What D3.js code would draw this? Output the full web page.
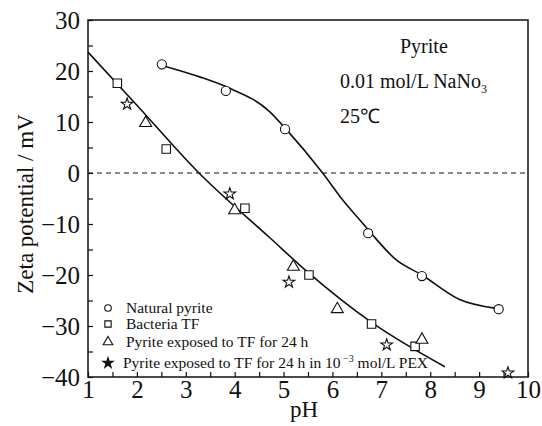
<!DOCTYPE html>
<html><head><meta charset="utf-8">
<script src="https://cdn.jsdelivr.net/npm/d3@7"></script>
<style>
html,body{margin:0;padding:0;background:#fff;}
svg text{font-family:"Liberation Serif","Times New Roman",serif;fill:#111;}
</style></head>
<body>
<svg id="chart" width="542" height="426"></svg>
<script>
// ---- data ----
const xTicks = [1,2,3,4,5,6,7,8,9,10];
const yTicks = [-40,-30,-20,-10,0,10,20,30];
const naturalPH   = [2.51, 3.82, 5.03, 6.73, 7.83, 9.40];
const naturalZeta = [21.3, 16.1, 8.6, -11.8, -20.2, -26.7];
const bacteriaPH   = [1.60, 2.60, 4.21, 5.52, 6.80, 7.69];
const bacteriaZeta = [17.6, 4.7, -6.9, -20.0, -29.6, -34.0];
const exposedPH   = [2.18, 4.00, 5.20, 6.10, 7.83];
const exposedZeta = [9.8, -7.3, -18.4, -26.7, -32.7];
const pexPH   = [1.80, 3.90, 5.11, 7.11, 9.59];
const pexZeta = [13.5, -4.1, -21.4, -33.7, -39.2];
// fitted curves
const fitLinPH   = [1.0, 2.0, 3.27, 4.72, 5.5, 6.8, 8.3];
const fitLinZeta = [23.7, 13.3, 0, -12.7, -19.5, -29.3, -38.0];
const fitNatPH   = [2.55, 3.3, 3.85, 4.72, 5.05, 5.8, 6.21, 6.56, 6.8, 7.3, 7.83, 8.6, 9.32];
const fitNatZeta = [21.0, 18.8, 16.8, 12.0, 8.6, 0, -5.3, -9.2, -11.9, -17.0, -20.0, -24.8, -26.5];
const legendLabels = ["Natural pyrite","Bacteria TF","Pyrite exposed to TF for 24 h","Pyrite exposed to TF for 24 h in 10"];

const svg = d3.select("#chart");
svg.append("rect").attr("width",542).attr("height",426).attr("fill","#fff");
const L=88,R=528,T=20,B=377;
const x = d3.scaleLinear().domain([1,10]).range([L,R]);
const y = d3.scaleLinear().domain([-40,30]).range([B,T]);

// minor inward ticks
const ax = svg.append("g").attr("transform",`translate(0,${B})`)
  .call(d3.axisBottom(x).tickValues(d3.range(1,10.01,0.5)).tickSize(-5).tickFormat(""));
const ay = svg.append("g").attr("transform",`translate(${L},0)`)
  .call(d3.axisLeft(y).tickValues(d3.range(-40,30.01,5)).tickSize(-5).tickFormat(""));
[ax,ay].forEach(g=>{g.select(".domain").remove();g.selectAll("line").attr("stroke","#111").attr("stroke-width",1.2);});

// labels
const lx = svg.append("g").attr("transform",`translate(0,${B})`)
  .call(d3.axisBottom(x).tickValues(xTicks).tickSize(0).tickPadding(3).tickFormat(d3.format("d")));
const ly = svg.append("g").attr("transform",`translate(${L},0)`)
  .call(d3.axisLeft(y).tickValues(yTicks).tickSize(0).tickPadding(8).tickFormat(d=>d<0?"\u2212"+Math.abs(d):d));
[lx,ly].forEach(g=>{g.select(".domain").remove();g.selectAll("text").attr("font-size",25).attr("fill","#111")
  .style("font-family",'"Liberation Serif","Times New Roman",serif');});

// frame
svg.append("rect").attr("x",L).attr("y",T).attr("width",R-L).attr("height",B-T)
  .attr("fill","none").attr("stroke","#111").attr("stroke-width",1.5);

// zero line
svg.append("line").attr("x1",L).attr("x2",R).attr("y1",y(0)).attr("y2",y(0))
  .attr("stroke","#111").attr("stroke-width",1).attr("stroke-dasharray","5,4");

// fitted curves
const line = d3.line().x(d=>x(d[0])).y(d=>y(d[1])).curve(d3.curveMonotoneX);
svg.append("path").attr("d",line(d3.zip(fitLinPH,fitLinZeta))).attr("fill","none").attr("stroke","#111").attr("stroke-width",1.6);
svg.append("path").attr("d",line(d3.zip(fitNatPH,fitNatZeta))).attr("fill","none").attr("stroke","#111").attr("stroke-width",1.6);

// markers
function draw(ph, z, type, size, fill){
  svg.append("g").selectAll("path").data(d3.zip(ph,z)).join("path")
    .attr("transform",d=>`translate(${x(d[0])},${y(d[1])})`)
    .attr("d",d3.symbol(type,size)).attr("fill",fill).attr("stroke","#111").attr("stroke-width",1.1);
}
draw(naturalPH,naturalZeta,d3.symbolCircle,66,"#fff");
draw(bacteriaPH,bacteriaZeta,d3.symbolSquare,72,"#fff");
draw(exposedPH,exposedZeta,d3.symbolTriangle,62,"#fff");
draw(pexPH,pexZeta,d3.symbolStar,42,"#fff");

// legend
const legTypes=[d3.symbolCircle,d3.symbolSquare,d3.symbolTriangle,d3.symbolStar];
const legSizes=[34,40,40,34];
const legFill=["#fff","#fff","#fff","#111"];
const legY=[308,324,342,363];
const legTX=[126,126,126,123];
legendLabels.forEach((t,i)=>{
  svg.append("path").attr("transform",`translate(108,${legY[i]})`).attr("d",d3.symbol(legTypes[i],legSizes[i]))
    .attr("fill",legFill[i]).attr("stroke","#111").attr("stroke-width",1.1);
  const tx = svg.append("text").attr("x",legTX[i]).attr("y",legY[i]+5).attr("font-size",15.5).text(t);
  if(i===3){
    tx.append("tspan").attr("font-size",10).attr("dy",-6).text(" \u22123");
    tx.append("tspan").attr("dy",6).text(" mol/L PEX");
  }
});

// annotations
svg.append("text").attr("x",400).attr("y",53).attr("font-size",20).text("Pyrite");
const an = svg.append("text").attr("x",340).attr("y",88).attr("font-size",20).text("0.01 mol/L NaNo");
an.append("tspan").attr("font-size",12).attr("dy",5).text("3");
svg.append("text").attr("x",340).attr("y",123).attr("font-size",20).text("25\u2103");

// axis titles
svg.append("text").attr("x",304).attr("y",417).attr("text-anchor","middle").attr("font-size",23).text("pH");
svg.append("text").attr("transform","translate(33,204) rotate(-90)").attr("text-anchor","middle").attr("font-size",23).text("Zeta potential / mV");
</script>
</body></html>
